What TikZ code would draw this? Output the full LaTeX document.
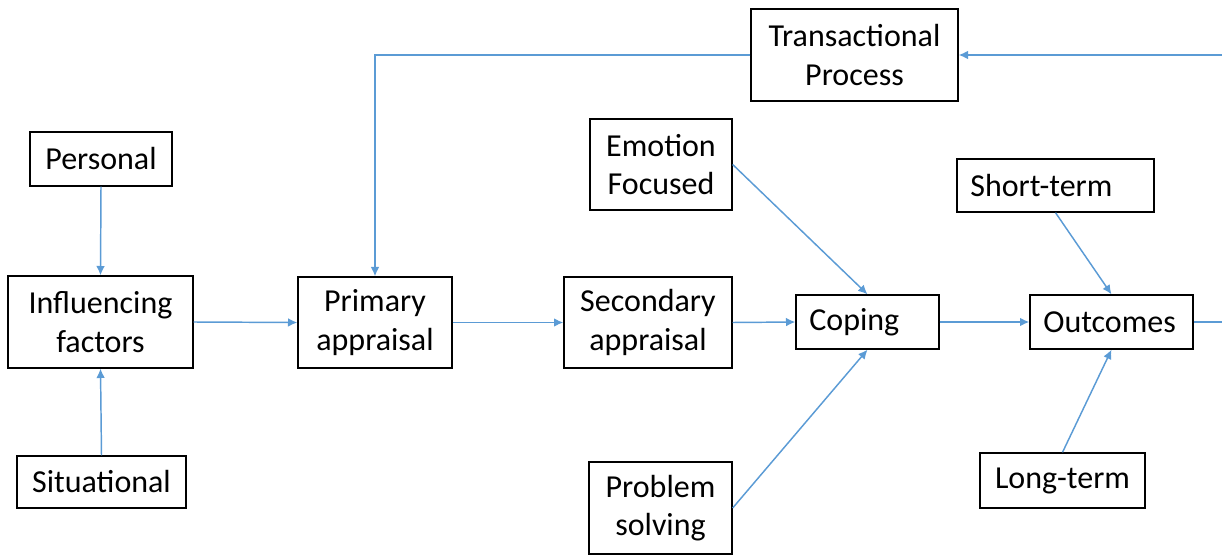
\documentclass[tikz,border=0pt]{standalone}
\usepackage{fontspec}
\setmainfont{Carlito}
\usetikzlibrary{arrows.meta}
\definecolor{flowblue}{HTML}{5B9BD5}

\begin{document}
\begin{tikzpicture}[x=0.75pt, y=-0.75pt,
    box/.style={draw, line width=1pt, inner sep=0pt, align=center,
                font=\fontsize{24}{29}\selectfont},
    lbox/.style={box, align=left, inner xsep=10pt},
    flow/.style={draw=flowblue, line width=1.1pt, -{Latex[length=7pt,width=6.5pt]}}]

   \useasboundingbox (0,0) rectangle (1222,556);

   % boxes with centred text
   \foreach \n/\x/\y/\w/\h/\t in {pers/101/159/142/54/Personal, infl/100.5/322/185/92/{Influencing\\factors},
        situ/101.5/482/169/52/Situational, prim/375/322.5/154/91/{Primary\\appraisal},
        seco/648/322.5/168/91/{Secondary\\appraisal}, emot/661/164.5/142/91/{Emotion\\Focused},
        prob/660.5/508/143/92/{Problem\\solving}, long/1062.5/480.5/165/55/Long-term,
        tran/854.5/55/207/92/{Transactional\\Process}}
     \node [box, minimum width=\w*0.75pt, minimum height=\h*0.75pt] (\n) at (\x,\y) {\t};

   % boxes with text on the left
   \foreach \n/\x/\y/\w/\h/\t in {copi/867.5/322/143/54/Coping, outc/1111.5/322/163/54/Outcomes,
        shor/1055.5/185.5/197/53/Short-term}
     \node [lbox, text width=\w*0.75pt-20pt, minimum height=\h*0.75pt] (\n) at (\x,\y) {\t};

   \coordinate (edgeR) at (1222,322);
   \coordinate (edgeT) at (1222,55);

   \foreach \i/\j in {pers.south/infl.north, situ.north/infl.south, infl.east/prim.west,
        prim.east/seco.west, seco.east/copi.west, emot.east/copi.north, prob.east/copi.south,
        copi.east/outc.west, shor.south/outc.north, long.north/outc.south, edgeT/tran.east}
     \draw[flow] (\i) -- (\j);

   \draw[flow, -] (outc.east) -- (edgeR);
   \draw[flow] (tran.west) -| (prim.north);

\end{tikzpicture}
\end{document}
